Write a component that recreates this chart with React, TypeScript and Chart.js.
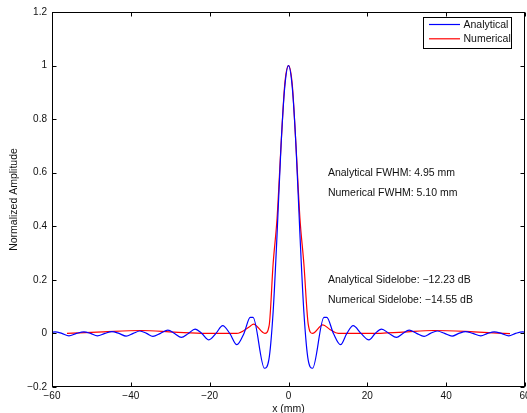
import React, { useEffect, useRef } from "react";
import { Chart, registerables } from "chart.js";
Chart.register(...registerables);

const seriesLabels = ["Analytical", "Numerical"];
const seriesColors = ["#0000FF", "#FF0000"];

const analyticalX = [
  -60, -59.2, -57.5, -55.7, -53.8, -51.9, -50.2, -48.5, -46.6, -44.8, -43.0, -41.2, -39.4, -37.7, -36.0,
  -34.4, -32.5, -30.6, -28.9, -27.2, -25.4, -23.7, -22.0, -20.2, -18.4, -16.7, -14.9, -13.1, -11.3, -9.7,
  -9.0, -6.1, -5.0, -3.9, -2.9, -1.9, -0.95, 0, 0.95, 1.9, 2.9, 3.9, 5.0, 6.1, 9.0, 9.7, 11.4, 13.2, 14.8,
  16.4, 18.4, 20.4, 22.0, 23.6, 25.5, 27.4, 29.0, 30.6, 32.5, 34.4, 36.0, 37.7, 39.6, 41.5, 43.2, 44.9,
  46.8, 48.8, 50.5, 52.2, 54.0, 55.9, 57.6, 59.4, 60,
];
const analyticalY = [
  0.004, 0.006, 0, -0.009, 0, 0.006, 0, -0.009, 0, 0.007, 0, -0.01, 0, 0.009, 0,
  -0.011, 0, 0.012, 0, -0.015, 0, 0.016, 0, -0.024, 0, 0.029, 0, -0.042, 0, 0.06,
  0.06, -0.13, -0.1, 0.08, 0.37, 0.7, 0.92, 1.0, 0.92, 0.7, 0.37, 0.08, -0.1, -0.13, 0.06, 0.06, 0, -0.042, 0,
  0.029, 0, -0.024, 0, 0.016, 0, -0.015, 0, 0.012, 0, -0.011, 0, 0.009, 0, -0.01, 0, 0.007,
  0, -0.009, 0, 0.006, 0, -0.009, 0, 0.006, 0.004,
];

const numericalX = [
  -56.2, -47, -37.5, -29, -21, -13.2, -9.8, -8.9, -6.0, -4.9, -3.9, -2.9, -1.9, -0.95, 0,
  0.95, 1.9, 2.9, 3.9, 5.0, 6.1, 8.7, 10.5, 12.6, 21, 29, 36.8, 47, 56.2,
];
const numericalY = [
  0, 0.006, 0.011, 0.005, 0, 0, 0.026, 0.035, 0, 0.03, 0.26, 0.43, 0.7, 0.93, 1.0,
  0.93, 0.7, 0.43, 0.26, 0.035, 0, 0.032, 0.015, 0, 0, 0.005, 0.011, 0.006, -0.001,
];

const xTicks = [-60, -40, -20, 0, 20, 40, 60];
const yTicks = [-0.2, 0, 0.2, 0.4, 0.6, 0.8, 1, 1.2];

const xTitle = "x (mm)";
const yTitle = "Normalized Amplitude";

const annotationTexts = [
  "Analytical FWHM: 4.95 mm",
  "Numerical FWHM: 5.10 mm",
  "Analytical Sidelobe: \u221212.23 dB",
  "Numerical Sidelobe: \u221214.55 dB",
];
const annotationX = [10, 10, 10, 10];
const annotationY = [0.6, 0.525, 0.2, 0.125];

const FONT = '"Liberation Sans", Arial, Helvetica, sans-serif';

const fmt = (v: number) => {
  const r = Number(v.toFixed(1));
  return r < 0 ? "\u2212" + Math.abs(r) : String(r);
};

const framePlugin = {
  id: "frame",
  afterDatasetsDraw(chart: any) {
    const { ctx, chartArea, scales } = chart;
    const { left, right, top, bottom } = chartArea;
    const L = Math.round(left) + 0.5;
    const R = Math.round(right) - 0.5;
    const T = Math.round(top) + 0.5;
    const B = Math.round(bottom) - 0.5;
    ctx.save();
    ctx.strokeStyle = "#000";
    ctx.lineWidth = 1;
    ctx.strokeRect(L, T, R - L, B - T);
    const tl = 4;
    ctx.beginPath();
    for (const v of xTicks) {
      const px = Math.round(scales.x.getPixelForValue(v)) + 0.5;
      ctx.moveTo(px, B);
      ctx.lineTo(px, B - tl);
      ctx.moveTo(px, T);
      ctx.lineTo(px, T + tl);
    }
    for (const v of yTicks) {
      const py = Math.round(scales.y.getPixelForValue(v)) + 0.5;
      ctx.moveTo(L, py);
      ctx.lineTo(L + tl, py);
      ctx.moveTo(R, py);
      ctx.lineTo(R - tl, py);
    }
    ctx.stroke();

    // annotations
    ctx.fillStyle = "#111";
    ctx.font = `10.5px ${FONT}`;
    ctx.textAlign = "left";
    ctx.textBaseline = "middle";
    annotationTexts.forEach((t, i) => {
      ctx.fillText(t, scales.x.getPixelForValue(annotationX[i]), scales.y.getPixelForValue(annotationY[i]));
    });

    // legend
    const boxW = 88;
    const boxH = 31;
    const bx = Math.round(right) - 14 - boxW + 0.5;
    const by = Math.round(top) + 5.5;
    ctx.fillStyle = "#fff";
    ctx.fillRect(bx, by, boxW, boxH);
    ctx.strokeStyle = "#000";
    ctx.strokeRect(bx, by, boxW, boxH);
    chart.data.datasets.forEach((ds: any, i: number) => {
      const ly = by + 7 + i * 14.3;
      ctx.strokeStyle = ds.borderColor;
      ctx.lineWidth = 1.2;
      ctx.beginPath();
      ctx.moveTo(bx + 5.5, ly);
      ctx.lineTo(bx + 36.5, ly);
      ctx.stroke();
      ctx.fillStyle = "#111";
      ctx.fillText(ds.label, bx + 40, ly + 0.5);
    });
    ctx.restore();
  },
};

export default function App() {
  const ref = useRef<HTMLCanvasElement | null>(null);
  useEffect(() => {
    document.body.style.margin = "0";
    const canvas = ref.current!;
    const chart = new Chart(canvas, {
      type: "line",
      data: {
        datasets: [
          {
            label: seriesLabels[0],
            data: analyticalX.map((x, i) => ({ x, y: analyticalY[i] })),
            borderColor: seriesColors[0],
            borderWidth: 1.2,
            pointRadius: 0,
            cubicInterpolationMode: "monotone",
            fill: false,
          },
          {
            label: seriesLabels[1],
            data: numericalX.map((x, i) => ({ x, y: numericalY[i] })),
            borderColor: seriesColors[1],
            borderWidth: 1.2,
            pointRadius: 0,
            cubicInterpolationMode: "monotone",
            fill: false,
          },
        ],
      },
      options: {
        animation: false,
        responsive: false,
        devicePixelRatio: 1,
        layout: { padding: { top: 12, right: 2, bottom: 0, left: 0 } },
        plugins: { legend: { display: false }, tooltip: { enabled: false } },
        scales: {
          x: {
            type: "linear",
            min: -60,
            max: 60,
            grid: { display: false, drawTicks: false },
            border: { display: false },
            afterBuildTicks: (s: any) => {
              s.ticks = xTicks.map((v) => ({ value: v }));
            },
            ticks: {
              autoSkip: false,
              maxRotation: 0,
              padding: 3,
              color: "#111",
              font: { family: FONT, size: 10 },
              callback: (v: any) => fmt(Number(v)),
            },
            title: {
              display: true,
              text: xTitle,
              color: "#111",
              font: { family: FONT, size: 10.5, lineHeight: 0.76 },
              padding: { top: 0, bottom: 0 },
            },
            afterFit: (s: any) => {
              s.height = 26;
              s.paddingLeft = 0;
              s.paddingRight = 0;
            },
          },
          y: {
            type: "linear",
            min: -0.2,
            max: 1.2,
            grid: { display: false, drawTicks: false },
            border: { display: false },
            afterBuildTicks: (s: any) => {
              s.ticks = yTicks.map((v) => ({ value: v }));
            },
            ticks: {
              autoSkip: false,
              padding: 5,
              color: "#111",
              font: { family: FONT, size: 10 },
              callback: (v: any) => fmt(Number(v)),
            },
            title: {
              display: true,
              text: yTitle,
              color: "#111",
              font: { family: FONT, size: 10.5 },
              padding: { top: 8, bottom: 0 },
            },
            afterFit: (s: any) => {
              s.width = 52;
              s.paddingTop = 0;
              s.paddingBottom = 0;
            },
          },
        },
      },
      plugins: [framePlugin],
    });
    return () => chart.destroy();
  }, []);
  return (
    <div style={{ width: 527, height: 413, background: "#fff" }}>
      <canvas ref={ref} width={527} height={413} style={{ display: "block" }} />
    </div>
  );
}
